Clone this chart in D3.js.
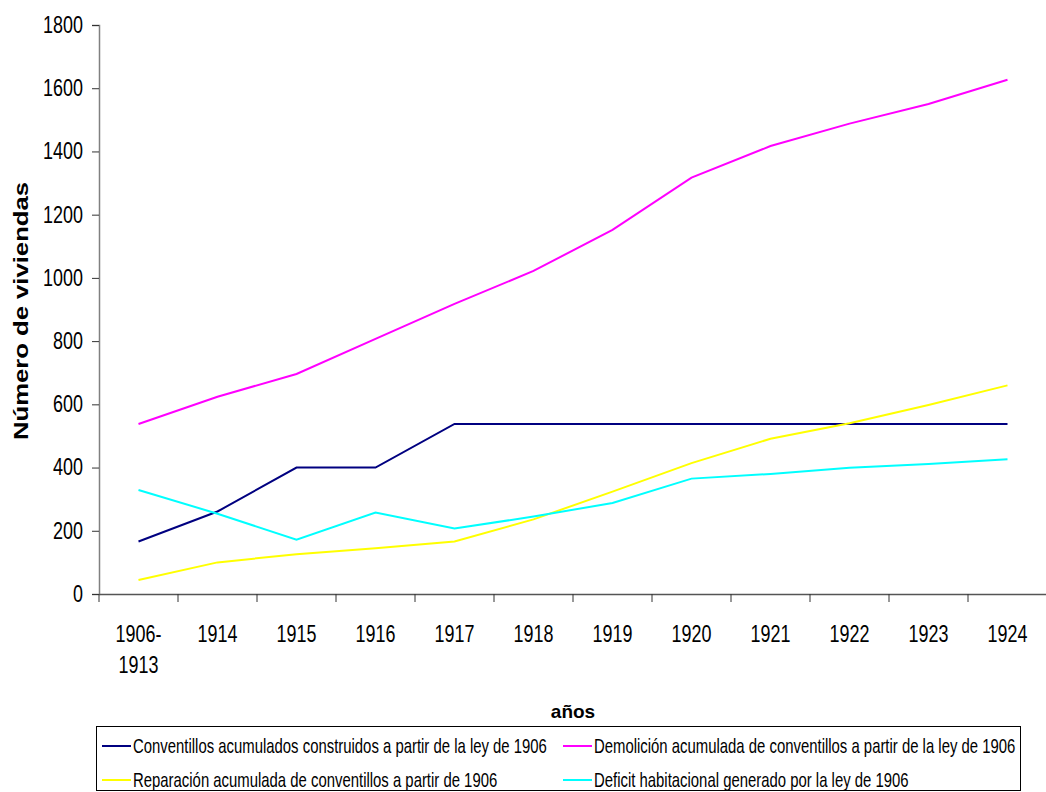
<!DOCTYPE html>
<html>
<head>
<meta charset="utf-8">
<script src="https://cdn.jsdelivr.net/npm/d3@7"></script>
<style>
  html, body { margin: 0; padding: 0; background: #fff; }
  svg { display: block; }
  text { font-family: "Liberation Sans", Arial, sans-serif; }
</style>
</head>
<body>
<svg id="chart" width="1046" height="792"></svg>
<script>
// Categories (x axis) and the four accumulated series, in number of dwellings
const categories = ["1906-1913", "1914", "1915", "1916", "1917", "1918", "1919", "1920", "1921", "1922", "1923", "1924"];
const categoryLabels = [["1906-", "1913"], ["1914"], ["1915"], ["1916"], ["1917"], ["1918"], ["1919"], ["1920"], ["1921"], ["1922"], ["1923"], ["1924"]];

const construidos = [166, 261, 400, 400, 538, 538, 538, 538, 538, 538, 538, 538];
const demolicion  = [538, 624, 696, 807, 918, 1022, 1152, 1317, 1417, 1488, 1550, 1627];
const reparacion  = [44, 100, 126, 145, 166, 236, 324, 414, 491, 540, 598, 660];
const deficit     = [329, 254, 172, 258, 207, 245, 288, 365, 380, 399, 411, 426];

const yTicks = [0, 200, 400, 600, 800, 1000, 1200, 1400, 1600, 1800];

const seriesNames = [
  "Conventillos acumulados construidos a partir de la ley de 1906",
  "Demolición acumulada de conventillos a partir de la ley de 1906",
  "Reparación acumulada de conventillos a partir de 1906",
  "Deficit habitacional generado por la ley de 1906"
];
const seriesColors = ["#000080", "#FF00FF", "#FFFF00", "#00FFFF"];
const seriesValues = [construidos, demolicion, reparacion, deficit];

// Condensed look: squeeze each text horizontally around its anchor point
function condense(selection, factor) {
  selection.each(function() {
    const t = d3.select(this);
    const px = +t.attr("x") || 0;
    const py = +t.attr("y") || 0;
    t.attr("x", 0).attr("y", 0)
     .attr("transform", `translate(${px},${py}) scale(${factor},1)`);
  });
}

const svg = d3.select("#chart");

const plot = { left: 99, right: 1047, top: 25, bottom: 594 };

const x = d3.scaleBand().domain(categories).range([plot.left, plot.right]).padding(0);
const y = d3.scaleLinear().domain([0, 1800]).range([plot.bottom, plot.top]);

const axisColor = "#808080";

// Y axis
const yAxis = svg.append("g")
  .attr("transform", `translate(${plot.left},0)`)
  .call(d3.axisLeft(y).tickValues(yTicks).tickSize(7).tickPadding(9).tickFormat(d3.format("d")));
yAxis.attr("font-family", null);
yAxis.select(".domain").attr("stroke", axisColor).attr("stroke-width", 1.5);
yAxis.selectAll(".tick line").attr("stroke", "#333");
yAxis.selectAll(".tick text")
  .attr("font-size", 23)
  .attr("fill", "#000")
  .call(condense, 0.78);

// X axis: labels centred in each band, tick marks on band edges
const xAxis = svg.append("g")
  .attr("transform", `translate(0,${plot.bottom})`)
  .call(d3.axisBottom(x).tickSize(0).tickFormat(""));
xAxis.attr("font-family", null);
xAxis.select(".domain").attr("stroke", "#555").attr("stroke-width", 1.5);

const edges = categories.map(c => x(c));
xAxis.selectAll("line.edge")
  .data(edges)
  .join("line")
  .attr("class", "edge")
  .attr("x1", d => d).attr("x2", d => d)
  .attr("y1", 0).attr("y2", 8)
  .attr("stroke", "#333");

xAxis.selectAll(".tick").each(function(d, i) {
  const g = d3.select(this);
  categoryLabels[i].forEach((line, j) => {
    g.append("text")
      .attr("font-size", 23)
      .attr("fill", "#000")
      .attr("text-anchor", "middle")
      .attr("x", 0).attr("y", 48 + j * 31)
      .text(line);
  });
});
xAxis.selectAll(".tick text").call(condense, 0.78);

// Axis titles
svg.append("text")
  .attr("x", 573).attr("y", 718)
  .attr("text-anchor", "middle")
  .attr("font-weight", "bold")
  .attr("font-size", 19)
  .text("años");

svg.append("text")
  .attr("transform", "translate(28,311) rotate(-90)")
  .attr("text-anchor", "middle")
  .attr("font-weight", "bold")
  .attr("font-size", 20)
  .attr("textLength", 258)
  .attr("lengthAdjust", "spacingAndGlyphs")
  .text("Número de viviendas");

// Series lines
const line = d3.line()
  .x((d, i) => x(categories[i]) + x.bandwidth() / 2)
  .y(d => y(d));

svg.append("g").selectAll("path")
  .data(seriesValues)
  .join("path")
  .attr("fill", "none")
  .attr("stroke", (d, i) => seriesColors[i])
  .attr("stroke-width", 2)
  .attr("d", line);

// Legend
const legend = svg.append("g");
legend.append("rect")
  .attr("x", 96.5).attr("y", 726.5)
  .attr("width", 924).attr("height", 64)
  .attr("fill", "#fff")
  .attr("stroke", "#000").attr("stroke-width", 1);

const legendPos = [
  { lx: 102, ty: 746 },
  { lx: 563, ty: 746 },
  { lx: 102, ty: 780 },
  { lx: 563, ty: 780 }
];
const items = legend.selectAll("g.item")
  .data(seriesNames)
  .join("g")
  .attr("class", "item")
  .attr("transform", (d, i) => `translate(${legendPos[i].lx},${legendPos[i].ty})`);
items.append("line")
  .attr("x1", 0).attr("x2", 29)
  .attr("y1", 0).attr("y2", 0)
  .attr("stroke", (d, i) => seriesColors[i])
  .attr("stroke-width", 2);
items.append("text")
  .attr("x", 31).attr("y", 0)
  .attr("dy", "0.35em")
  .attr("font-size", 20)
  .attr("fill", "#000")
  .text(d => d)
  .call(condense, 0.745);
</script>
</body>
</html>
